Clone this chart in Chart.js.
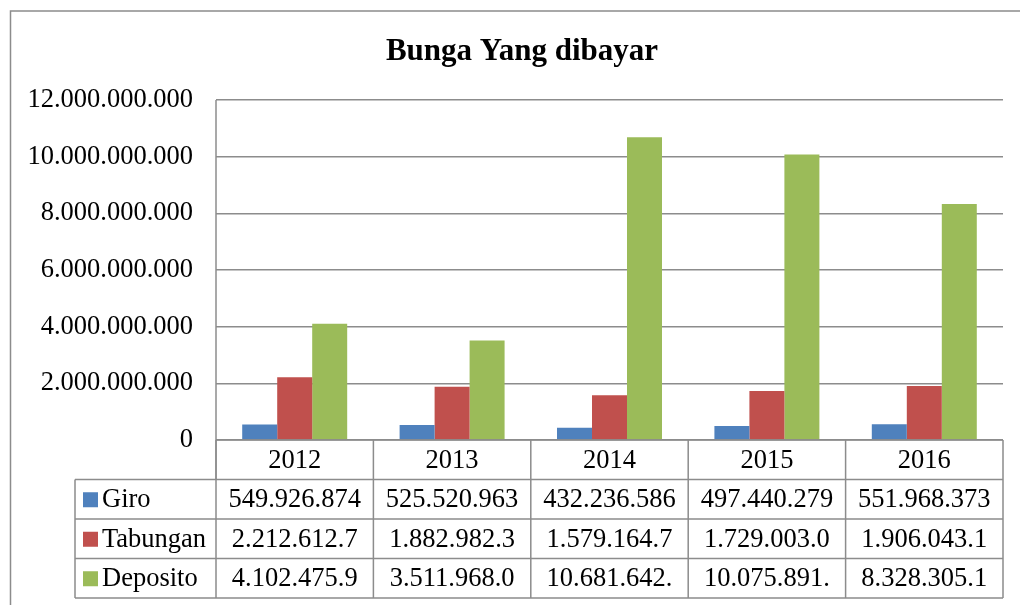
<!DOCTYPE html>
<html>
<head>
<meta charset="utf-8">
<script src="https://cdn.jsdelivr.net/npm/chart.js@4.4.1/dist/chart.umd.min.js"></script>
<style>
  html, body { margin: 0; padding: 0; background: #fff; }
  #wrap { width: 1020px; height: 605px; }
</style>
</head>
<body>
<div id="wrap"><canvas id="chart" width="1020" height="605"></canvas></div>
<script>
const chartTitle = 'Bunga Yang dibayar';
const years = ['2012', '2013', '2014', '2015', '2016'];
const seriesNames = ['Giro', 'Tabungan', 'Deposito'];
const seriesColors = ['#4f81bd', '#c0504d', '#9bbb59'];

const giro = [549926874, 525520963, 432236586, 497440279, 551968373];
const tabungan = [2212612700, 1882982300, 1579164700, 1729003000, 1906043100];
const deposito = [4102475900, 3511968000, 10681642000, 10075891000, 8328305100];

const yMax = 12000000000;
const yStep = 2000000000;

const FONT = '"Liberation Serif", "Times New Roman", serif';
const lineColor = '#8c8c8c';

function dots(n) {
  return String(Math.round(n)).replace(/\B(?=(\d{3})+(?!\d))/g, '.');
}

// data table cells only show the first 11 characters, like the original
function cellText(n) {
  return dots(n).slice(0, 11);
}

const tablePlugin = {
  id: 'tablePlugin',
  beforeDraw(chart) {
    const ctx = chart.ctx;
    ctx.save();
    ctx.fillStyle = '#fff';
    ctx.fillRect(0, 0, chart.width, chart.height);
    ctx.restore();
  },
  afterDraw(chart) {
    const ctx = chart.ctx;
    const area = chart.chartArea;
    const x = chart.scales.x;
    const colW = (area.right - area.left) / years.length;
    const rowH = 39.5;
    const catTop = area.bottom;
    const rowTops = [catTop + rowH, catTop + rowH * 2, catTop + rowH * 3];
    const tableBottom = catTop + rowH * 4;
    const legendLeft = 75;

    ctx.save();
    ctx.strokeStyle = lineColor;
    ctx.lineWidth = 1.5;

    // outer frame
    ctx.beginPath();
    ctx.moveTo(10.5, chart.height + 2);
    ctx.lineTo(10.5, 11);
    ctx.lineTo(chart.width + 2, 11);
    ctx.stroke();

    // plot left edge
    ctx.beginPath();
    ctx.moveTo(area.left, area.top);
    ctx.lineTo(area.left, rowTops[0]);
    ctx.stroke();

    // table horizontal lines
    ctx.beginPath();
    ctx.moveTo(area.left, catTop);
    ctx.lineTo(area.right, catTop);
    rowTops.concat([tableBottom]).forEach(y => {
      ctx.moveTo(legendLeft, y);
      ctx.lineTo(area.right, y);
    });
    // vertical lines
    for (let i = 0; i <= years.length; i++) {
      const cx = area.left + i * colW;
      ctx.moveTo(cx, catTop);
      ctx.lineTo(cx, tableBottom);
    }
    ctx.moveTo(legendLeft, rowTops[0]);
    ctx.lineTo(legendLeft, tableBottom);
    ctx.stroke();

    ctx.fillStyle = '#000';
    ctx.font = '26.5px ' + FONT;
    ctx.textAlign = 'center';
    ctx.textBaseline = 'middle';
    years.forEach((yr, i) => {
      ctx.fillText(yr, x.getPixelForValue(i), catTop + rowH / 2 + 1);
    });

    const series = [giro, tabungan, deposito];
    series.forEach((vals, r) => {
      const cy = rowTops[r] + rowH / 2 + 1;
      ctx.textAlign = 'center';
      ctx.fillStyle = '#000';
      vals.forEach((v, i) => {
        ctx.fillText(cellText(v), x.getPixelForValue(i), cy);
      });
      ctx.fillStyle = seriesColors[r];
      ctx.fillRect(legendLeft + 8, cy - 8, 15, 15);
      ctx.fillStyle = '#000';
      ctx.textAlign = 'left';
      ctx.fillText(seriesNames[r], legendLeft + 27, cy);
    });

    // title
    ctx.font = 'bold 31px ' + FONT;
    ctx.textAlign = 'center';
    ctx.fillText(chartTitle, 522, 52);
    ctx.restore();
  }
};

new Chart(document.getElementById('chart').getContext('2d'), {
  type: 'bar',
  data: {
    labels: years,
    datasets: [
      { label: seriesNames[0], data: giro, backgroundColor: seriesColors[0] },
      { label: seriesNames[1], data: tabungan, backgroundColor: seriesColors[1] },
      { label: seriesNames[2], data: deposito, backgroundColor: seriesColors[2] }
    ]
  },
  options: {
    responsive: false,
    animation: false,
    layout: { padding: { top: 100, right: 17, bottom: 165, left: 0 } },
    datasets: { bar: { categoryPercentage: 0.667, barPercentage: 1 } },
    plugins: {
      legend: { display: false },
      title: { display: false },
      tooltip: { enabled: false }
    },
    scales: {
      x: { display: false },
      y: {
        min: 0,
        max: yMax,
        afterFit: s => { s.width = 216; },
        border: { display: false },
        grid: { color: lineColor, lineWidth: 1.5, drawTicks: false },
        ticks: {
          stepSize: yStep,
          padding: 23,
          color: '#000',
          font: { family: FONT, size: 26.5 },
          callback: v => dots(v)
        }
      }
    }
  },
  plugins: [tablePlugin]
});
</script>
</body>
</html>
